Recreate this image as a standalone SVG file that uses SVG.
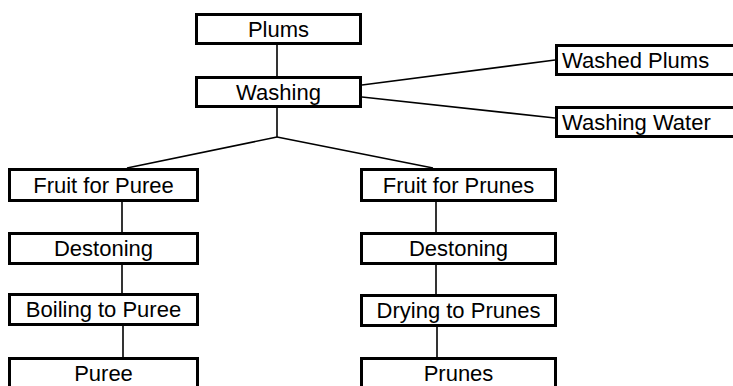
<svg xmlns="http://www.w3.org/2000/svg" width="733" height="386" viewBox="0 0 733 386">
<style>
.box{fill:#fff;stroke:#000;stroke-width:3}
.t{font-family:"Liberation Sans",Arial,sans-serif;font-size:22px;fill:#000;text-anchor:middle}
.tl{font-family:"Liberation Sans",Arial,sans-serif;font-size:22px;fill:#000}
.c{stroke:#000;stroke-width:1.6;fill:none}
</style>
<rect width="733" height="386" fill="#fff"/>
<g id="connectors">
<line class="c" x1="277" y1="45" x2="277" y2="76"/>
<line class="c" x1="277" y1="108" x2="277" y2="137"/>
<line class="c" x1="277" y1="137" x2="127" y2="168"/>
<line class="c" x1="277" y1="137" x2="433" y2="168"/>
<line class="c" x1="362" y1="85" x2="555" y2="60"/>
<line class="c" x1="362" y1="97" x2="555" y2="118"/>
<line class="c" x1="122" y1="202" x2="122" y2="232"/>
<line class="c" x1="122" y1="265" x2="122" y2="293"/>
<line class="c" x1="123" y1="326" x2="123" y2="357"/>
<line class="c" x1="436" y1="202" x2="436" y2="232"/>
<line class="c" x1="436" y1="265" x2="436" y2="294"/>
<line class="c" x1="437" y1="327" x2="437" y2="357"/>
</g>
<g id="plums"><rect class="box" x="196.5" y="14.5" width="164" height="29"/><text class="t" x="278.5" y="37">Plums</text></g>
<g id="washing"><rect class="box" x="196.5" y="77.5" width="164" height="29"/><text class="t" x="278.5" y="100">Washing</text></g>
<g id="washed-plums"><rect class="box" x="556.5" y="45.5" width="190" height="29"/><text class="tl" x="562" y="68">Washed Plums</text></g>
<g id="washing-water"><rect class="box" x="556.5" y="107.5" width="190" height="29"/><text class="tl" x="562" y="130">Washing Water</text></g>
<g id="fruit-puree"><rect class="box" x="9.5" y="169.5" width="188" height="31"/><text class="t" x="103.5" y="193">Fruit for Puree</text></g>
<g id="destoning-l"><rect class="box" x="9.5" y="233.5" width="188" height="30"/><text class="t" x="103.5" y="256">Destoning</text></g>
<g id="boiling"><rect class="box" x="9.5" y="294.5" width="188" height="30"/><text class="t" x="103.5" y="317">Boiling to Puree</text></g>
<g id="puree"><rect class="box" x="9.5" y="358.5" width="188" height="40"/><text class="t" x="103.5" y="381">Puree</text></g>
<g id="fruit-prunes"><rect class="box" x="361.5" y="169.5" width="194" height="31"/><text class="t" x="458.5" y="193">Fruit for Prunes</text></g>
<g id="destoning-r"><rect class="box" x="361.5" y="233.5" width="194" height="30"/><text class="t" x="458.5" y="256">Destoning</text></g>
<g id="drying"><rect class="box" x="361.5" y="295.5" width="194" height="30"/><text class="t" x="458.5" y="318">Drying to Prunes</text></g>
<g id="prunes"><rect class="box" x="361.5" y="358.5" width="194" height="40"/><text class="t" x="458.5" y="381">Prunes</text></g>
</svg>
